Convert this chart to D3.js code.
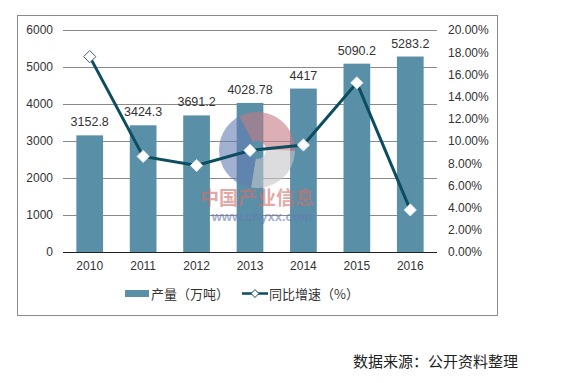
<!DOCTYPE html>
<html>
<head>
<meta charset="utf-8">
<script src="https://cdn.jsdelivr.net/npm/d3@7"></script>
<style>
  body { margin: 0; background: #fff; }
  svg text { font-family: "Liberation Sans", Arial, "Noto Sans CJK SC", sans-serif; }
</style>
</head>
<body>
<div id="grafica"></div>
<script>
// datos
const years = ["2010", "2011", "2012", "2013", "2014", "2015", "2016"]
const output = [3152.8, 3424.3, 3691.2, 4028.78, 4417, 5090.2, 5283.2]
const outputLabels = ["3152.8", "3424.3", "3691.2", "4028.78", "4417", "5090.2", "5283.2"]
const growth = [17.6, 8.61, 7.79, 9.15, 9.64, 15.24, 3.79]
const leftTicks = [0, 1000, 2000, 3000, 4000, 5000, 6000]
const rightTicks = [0, 2, 4, 6, 8, 10, 12, 14, 16, 18, 20]

let width = 566
let height = 383
let m = { left: 63, right: 437, top: 30, bottom: 252 }

let svg = d3.select("#grafica").append("svg")
  .attr("width", width).attr("height", height)

// marco
svg.append("rect")
  .attr("x", 17.5).attr("y", 15.5).attr("width", 480).attr("height", 300)
  .attr("fill", "none").attr("stroke", "#8c8c8c")

let x = d3.scaleBand().domain(years).range([m.left, m.right]).paddingInner(0.5).paddingOuter(0.25)
let y = d3.scaleLinear().domain([0, 6000]).range([m.bottom, m.top])
let y2 = d3.scaleLinear().domain([0, 20]).range([m.bottom, m.top])

// eje izquierdo con rejilla
let axL = svg.append("g").attr("transform", "translate(" + m.left + ",0)")
  .call(d3.axisLeft(y).tickValues(leftTicks).tickSize(-(m.right - m.left)).tickPadding(10)
    .tickFormat(d3.format("d")))
axL.select(".domain").remove()
axL.selectAll("line").attr("stroke", "#8a8a8a")
axL.selectAll("text").attr("font-size", 12).attr("fill", "#333")
axL.selectAll(".tick").filter(d => d === 0).select("line").attr("stroke", "#222")

// eje derecho
let axR = svg.append("g").attr("transform", "translate(" + m.right + ",0)")
  .call(d3.axisRight(y2).tickValues(rightTicks).tickSize(0).tickPadding(11)
    .tickFormat(d => d.toFixed(2) + "%"))
axR.select(".domain").remove()
axR.selectAll("text").attr("font-size", 12).attr("fill", "#333")

// eje x
let axB = svg.append("g").attr("transform", "translate(0," + m.bottom + ")")
  .call(d3.axisBottom(x).tickSize(0).tickPadding(9))
axB.select(".domain").remove()
axB.selectAll("text").attr("font-size", 12).attr("fill", "#333")

// barras
svg.selectAll(".bar").data(output).enter().append("rect")
  .attr("x", (d, i) => x(years[i]))
  .attr("y", d => y(d))
  .attr("width", x.bandwidth())
  .attr("height", d => m.bottom - y(d))
  .attr("fill", "#5a8fa8")

svg.selectAll(".lbl").data(output).enter().append("text")
  .attr("x", (d, i) => x(years[i]) + x.bandwidth() / 2)
  .attr("y", d => y(d) - 9)
  .attr("text-anchor", "middle")
  .attr("font-size", 12.5)
  .attr("fill", "#333")
  .text((d, i) => outputLabels[i])

// marca de agua
let wm = svg.append("g").attr("opacity", 0.6)
let arcW = d3.arc().innerRadius(9).outerRadius(38)
wm.append("path").attr("transform", "translate(257,150)")
  .attr("d", arcW({ startAngle: -0.5, endAngle: 1.6 })).attr("fill", "#c47b83")
wm.append("path").attr("transform", "translate(257,150)")
  .attr("d", arcW({ startAngle: 1.6, endAngle: 3.3 })).attr("fill", "#c6c6ca")
wm.append("path").attr("transform", "translate(257,150)")
  .attr("d", arcW({ startAngle: 3.3, endAngle: 5.8 })).attr("fill", "#667db3")
wm.append("text").attr("x", 257).attr("y", 205).attr("text-anchor", "middle")
  .attr("font-size", 19).attr("font-weight", "bold").attr("fill", "#d0706c")
  .style("font-family", "'Noto Sans CJK SC', sans-serif").text("中国产业信息")
wm.append("text").attr("x", 262).attr("y", 221).attr("text-anchor", "middle")
  .attr("font-size", 13).attr("font-weight", "bold").attr("fill", "#6579b0")
  .text("www.chyxx.com")

// linea
let cx = (d, i) => x(years[i]) + x.bandwidth() / 2
let linea = d3.line().x(cx).y(d => y2(d))
svg.append("path").datum(growth)
  .attr("d", linea)
  .attr("fill", "none")
  .attr("stroke", "#0d4d60")
  .attr("stroke-width", 3)

let diamond = d3.symbol().type(d3.symbolDiamond2).size(95)
svg.selectAll(".pt").data(growth).enter().append("path")
  .attr("transform", (d, i) => "translate(" + cx(d, i) + "," + y2(d) + ")")
  .attr("d", diamond)
  .attr("fill", "#fff")
  .attr("stroke", (d, i) => i === 0 ? "#46606a" : "#dfe8ec")
  .attr("stroke-width", 1)

// leyenda
let ley = svg.append("g")
ley.append("rect").attr("x", 125).attr("y", 290).attr("width", 24).attr("height", 7).attr("fill", "#5a8fa8")
ley.append("text").attr("x", 151).attr("y", 298.5).attr("font-size", 13).attr("fill", "#333")
  .style("font-family", "'Noto Sans CJK SC', sans-serif").text("产量（万吨）")
ley.append("line").attr("x1", 242).attr("x2", 268).attr("y1", 293.5).attr("y2", 293.5)
  .attr("stroke", "#0d4d60").attr("stroke-width", 2.5)
ley.append("path").attr("transform", "translate(255,293.5)")
  .attr("d", d3.symbol().type(d3.symbolDiamond2).size(40))
  .attr("fill", "#fff").attr("stroke", "#0d4d60").attr("stroke-width", 1)
ley.append("text").attr("x", 269).attr("y", 298.5).attr("font-size", 13).attr("fill", "#333")
  .style("font-family", "'Noto Sans CJK SC', sans-serif").text("同比增速（%）")

// fuente
svg.append("text").attr("x", 353).attr("y", 367).attr("font-size", 15).attr("fill", "#222")
  .style("font-family", "'Noto Sans CJK SC', sans-serif").text("数据来源：公开资料整理")
</script>
</body>
</html>
